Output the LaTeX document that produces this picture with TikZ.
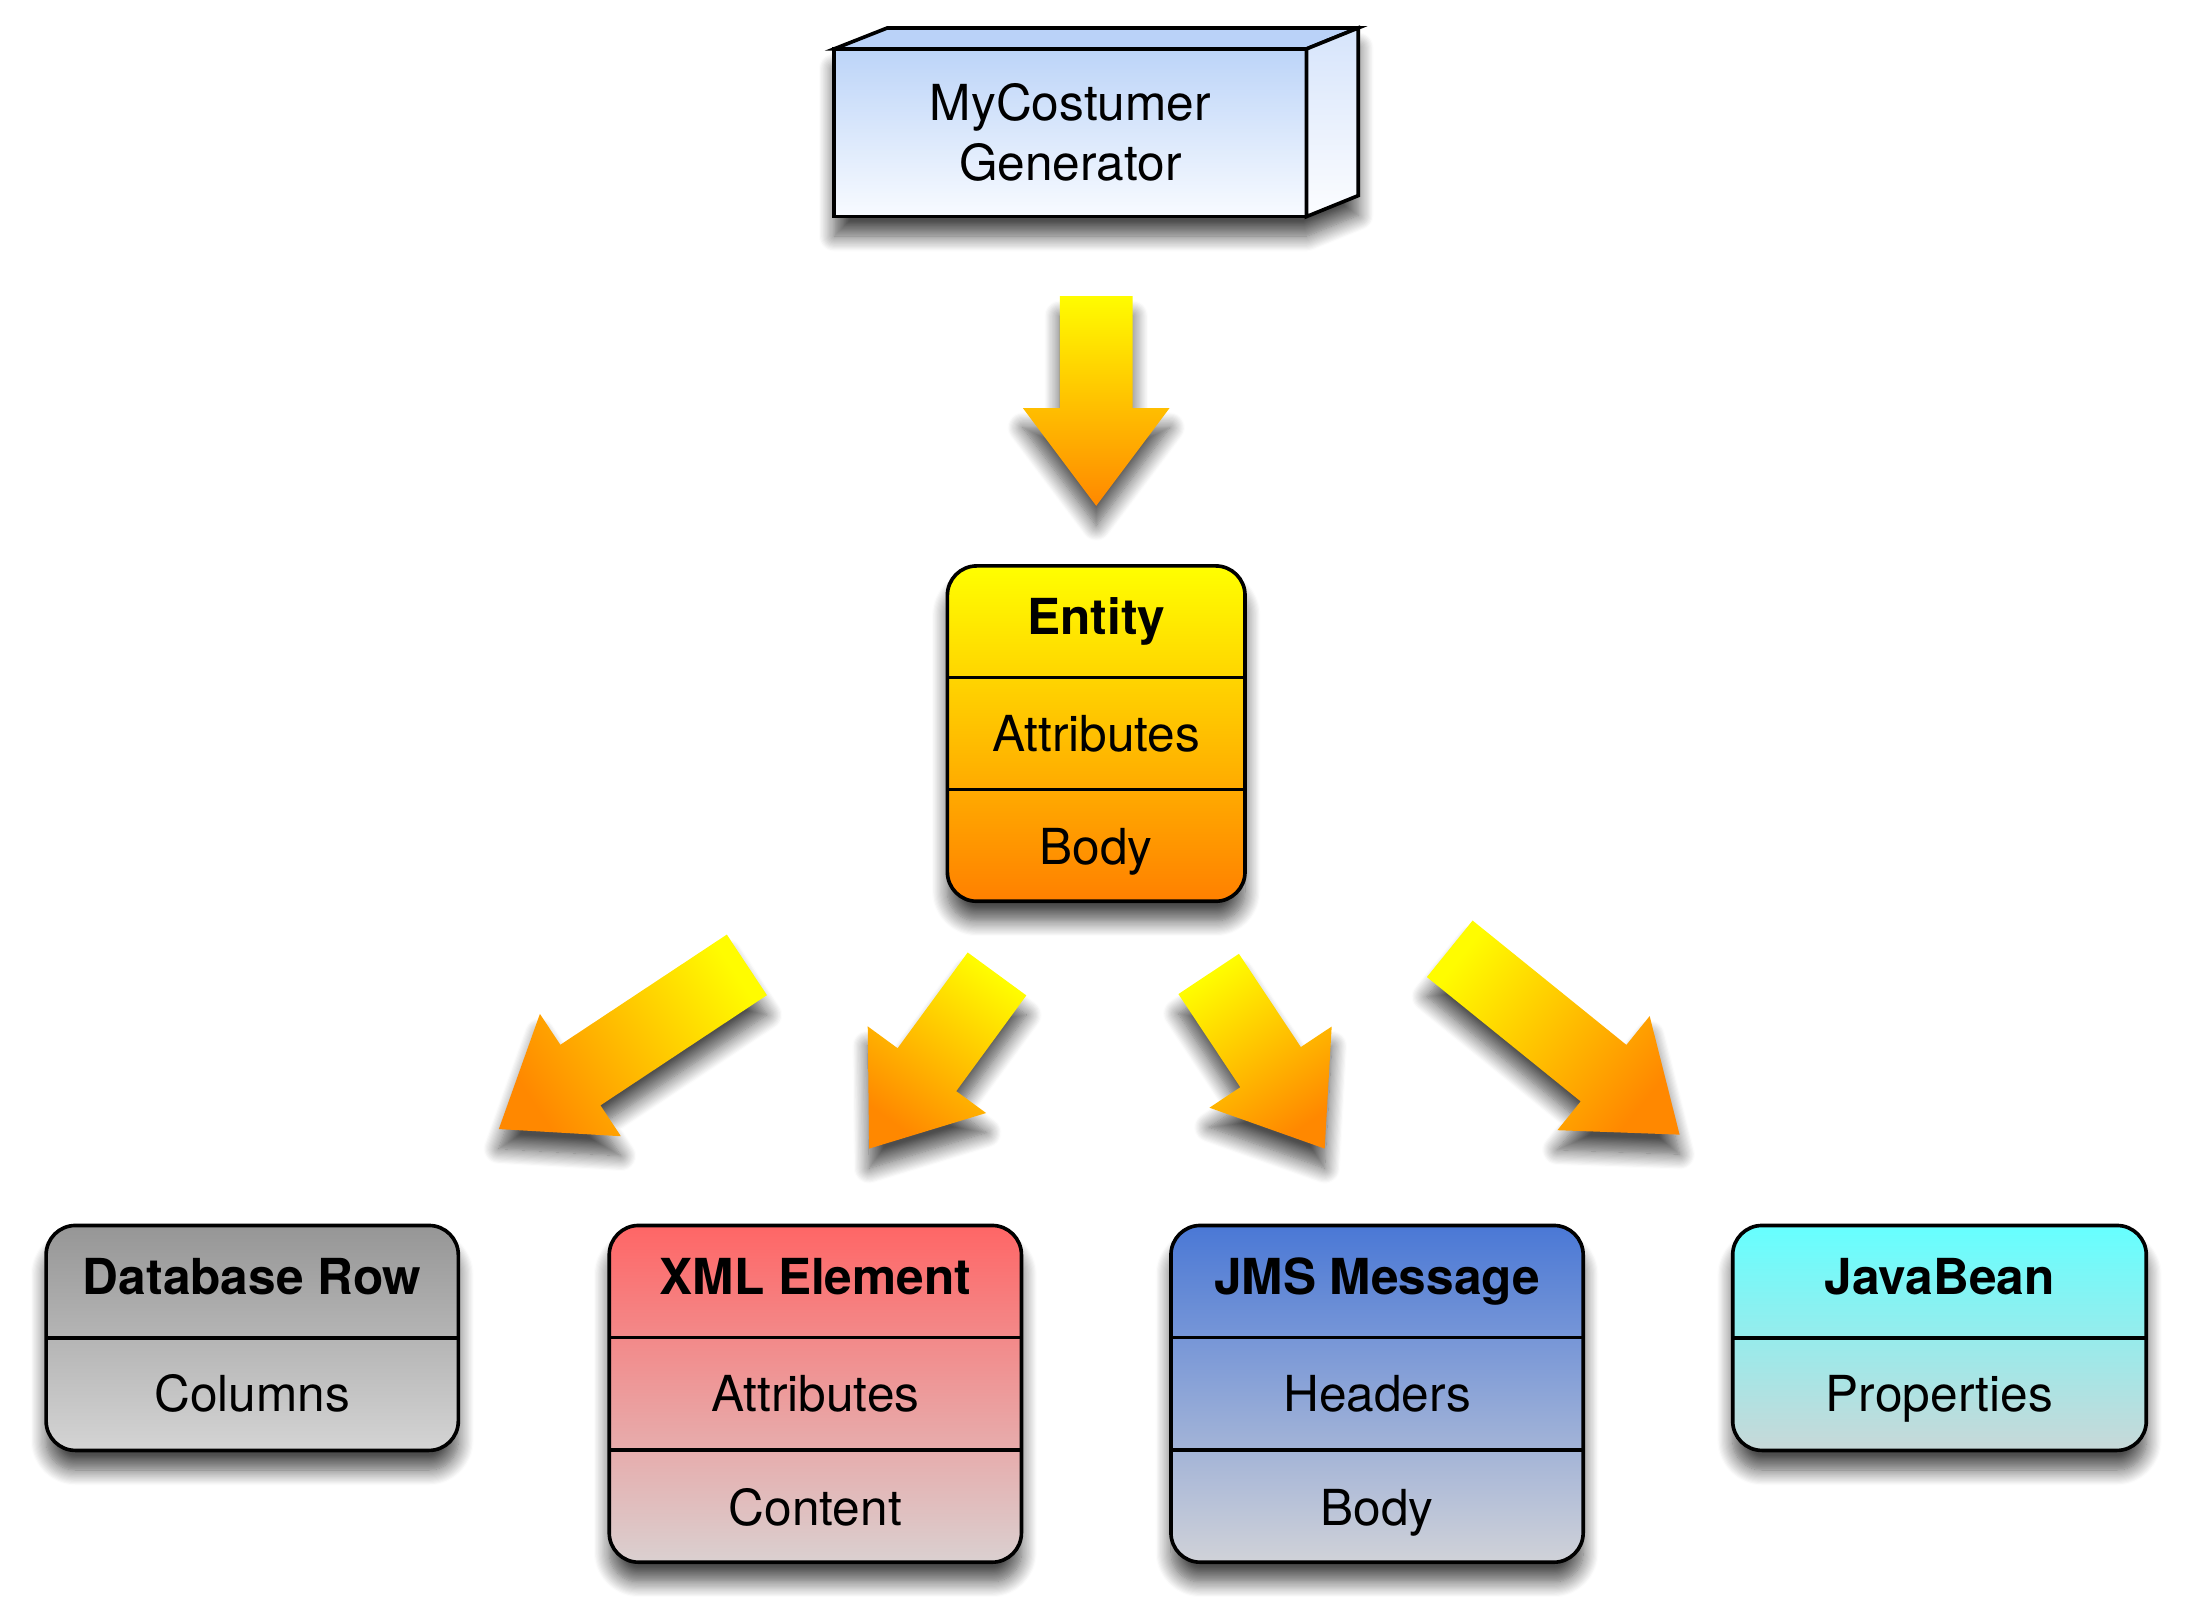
\documentclass[tikz,border=0pt]{standalone}
\usepackage{fontspec}
\setmainfont{TeX Gyre Heros}
\usetikzlibrary{calc,shadows.blur}

\definecolor{arrowtop}{RGB}{255,252,0}
\definecolor{arrowbot}{RGB}{255,136,0}
\definecolor{genTop}{RGB}{188,212,248}
\definecolor{genBot}{RGB}{248,251,255}
\definecolor{genTopFace}{RGB}{186,210,248}
\definecolor{genSideTop}{RGB}{214,228,251}
\definecolor{genSideBot}{RGB}{252,253,255}
\definecolor{entTop}{RGB}{255,255,0}
\definecolor{entBot}{RGB}{255,128,0}
\definecolor{dbTop}{RGB}{150,150,150}
\definecolor{dbBot}{RGB}{212,212,212}
\definecolor{xmlTop}{RGB}{255,102,102}
\definecolor{xmlBot}{RGB}{218,208,208}
\definecolor{jmsTop}{RGB}{74,120,214}
\definecolor{jmsBot}{RGB}{208,210,216}
\definecolor{beanTop}{RGB}{102,255,255}
\definecolor{beanBot}{RGB}{200,216,216}

\newcommand\blockarrow[3]{%
  \coordinate (ah) at ($(#2)!70pt!(#1)$);
  \shade[arrowshade, shading angle=#3]
    ($(#1)!26pt!90:(#2)$) -- ($(ah)!26pt!-90:(#1)$) -- ($(ah)!52.5pt!-90:(#1)$)
    -- (#2) -- ($(ah)!52.5pt!90:(#1)$) -- ($(ah)!26pt!90:(#1)$)
    -- ($(#1)!26pt!-90:(#2)$) -- cycle;}

\begin{document}
\begin{tikzpicture}[x=1pt,y=-1pt,
  boxshadow/.style={blur shadow={shadow xshift=0pt, shadow yshift=-14pt,
      shadow blur radius=11pt, shadow opacity=70, shadow blur steps=14}},
  umlbox/.style={draw=black, line width=2.6pt, rounded corners=21pt,
      inner sep=0pt, outer sep=0pt, boxshadow},
  divider/.style={line width=2.4pt},
  hdr/.style={font=\fontsize{35.5}{43}\selectfont\bfseries, anchor=base, inner sep=0pt},
  txt/.style={font=\fontsize{35.5}{43}\selectfont, anchor=base, inner sep=0pt},
  arrowshade/.style={top color=arrowtop, bottom color=arrowbot, boxshadow},
  facestyle/.style={draw=black, line width=2.6pt},
]
\useasboundingbox (0,0) rectangle (1568,1162);

% ---------- generator (3D box) ----------
\path node[outer sep=0pt, inner sep=0pt, minimum width=338pt, minimum height=120pt] (gen) at (766,95) {};
\path[boxshadow, fill=white] (gen.south west) -- (gen.north west) -- ++(38,-15)
   -- ([shift={(37,-15)}]gen.north east) -- ([shift={(37,-15)}]gen.south east)
   -- (gen.south east) -- cycle;
\draw[facestyle, top color=genTop, bottom color=genBot] (gen.north west) rectangle (gen.south east);
\draw[facestyle, fill=genTopFace] (gen.north west) -- ++(38,-15)
     -- ([shift={(37,-15)}]gen.north east) -- (gen.north east) -- cycle;
\draw[facestyle, top color=genSideTop, bottom color=genSideBot] (gen.north east)
     -- ++(37,-15) -- ++(0,120) -- (gen.south east) -- cycle;
\node[txt] (genA) at ($(gen.north)+(0,51)$) {MyCostumer};
\node[txt] (genB) at ($(gen.north)+(0,94)$) {Generator};

% ---------- entity ----------
\node[umlbox, minimum width=213pt, minimum height=240pt,
      top color=entTop, bottom color=entBot] (entity) at (784.5,525) {};
\draw[divider] ($(entity.north west)!1/3!(entity.south west)$) -- ($(entity.north east)!1/3!(entity.south east)$);
\draw[divider] ($(entity.north west)!2/3!(entity.south west)$) -- ($(entity.north east)!2/3!(entity.south east)$);
\node[hdr] (entityH) at ($(entity.north)!1/6!(entity.south)+(0,9)$) {Entity};
\node[txt] (entityA) at ($(entity.north)!3/6!(entity.south)+(0,12.5)$) {Attributes};
\node[txt] (entityB) at ($(entity.north)!5/6!(entity.south)+(0,14)$) {Body};

% ---------- database row ----------
\node[umlbox, minimum width=295pt, minimum height=161pt,
      top color=dbTop, bottom color=dbBot] (db) at (180.5,957.5) {};
\draw[divider] (db.west) -- (db.east);
\node[hdr] (dbH) at ($(db.north)!1/4!(db.south)+(0,9)$) {Database Row};
\node[txt] (dbA) at ($(db.north)!3/4!(db.south)+(0,12.5)$) {Columns};

% ---------- xml element ----------
\node[umlbox, minimum width=295pt, minimum height=241pt,
      top color=xmlTop, bottom color=xmlBot] (xml) at (583.5,997.5) {};
\draw[divider] ($(xml.north west)!1/3!(xml.south west)$) -- ($(xml.north east)!1/3!(xml.south east)$);
\draw[divider] ($(xml.north west)!2/3!(xml.south west)$) -- ($(xml.north east)!2/3!(xml.south east)$);
\node[hdr] (xmlH) at ($(xml.north)!1/6!(xml.south)+(0,9)$) {XML Element};
\node[txt] (xmlA) at ($(xml.north)!3/6!(xml.south)+(0,12.5)$) {Attributes};
\node[txt] (xmlB) at ($(xml.north)!5/6!(xml.south)+(0,14)$) {Content};

% ---------- jms message ----------
\node[umlbox, minimum width=295pt, minimum height=241pt,
      top color=jmsTop, bottom color=jmsBot] (jms) at (985.5,997.5) {};
\draw[divider] ($(jms.north west)!1/3!(jms.south west)$) -- ($(jms.north east)!1/3!(jms.south east)$);
\draw[divider] ($(jms.north west)!2/3!(jms.south west)$) -- ($(jms.north east)!2/3!(jms.south east)$);
\node[hdr] (jmsH) at ($(jms.north)!1/6!(jms.south)+(0,9)$) {JMS Message};
\node[txt] (jmsA) at ($(jms.north)!3/6!(jms.south)+(0,12.5)$) {Headers};
\node[txt] (jmsB) at ($(jms.north)!5/6!(jms.south)+(0,14)$) {Body};

% ---------- javabean ----------
\node[umlbox, minimum width=296pt, minimum height=161pt,
      top color=beanTop, bottom color=beanBot] (bean) at (1388,957.5) {};
\draw[divider] (bean.west) -- (bean.east);
\node[hdr] (beanH) at ($(bean.north)!1/4!(bean.south)+(0,9)$) {JavaBean};
\node[txt] (beanA) at ($(bean.north)!3/4!(bean.south)+(0,12.5)$) {Properties};

% ---------- block arrows ----------
\coordinate (a0s) at (784.5,212);  \coordinate (a0e) at (784.5,362);
\coordinate (a1s) at (534.5,690.5); \coordinate (a1e) at (357,808);
\coordinate (a2s) at (713.5,697);  \coordinate (a2e) at (622,822);
\coordinate (a3s) at (865,697);    \coordinate (a3e) at (948,822);
\coordinate (a4s) at (1037.5,679); \coordinate (a4e) at (1202,812);
\blockarrow{a0s}{a0e}{0}
\blockarrow{a1s}{a1e}{-56.5}
\blockarrow{a2s}{a2e}{-36.2}
\blockarrow{a3s}{a3e}{33.6}
\blockarrow{a4s}{a4e}{51}
\end{tikzpicture}
\end{document}
